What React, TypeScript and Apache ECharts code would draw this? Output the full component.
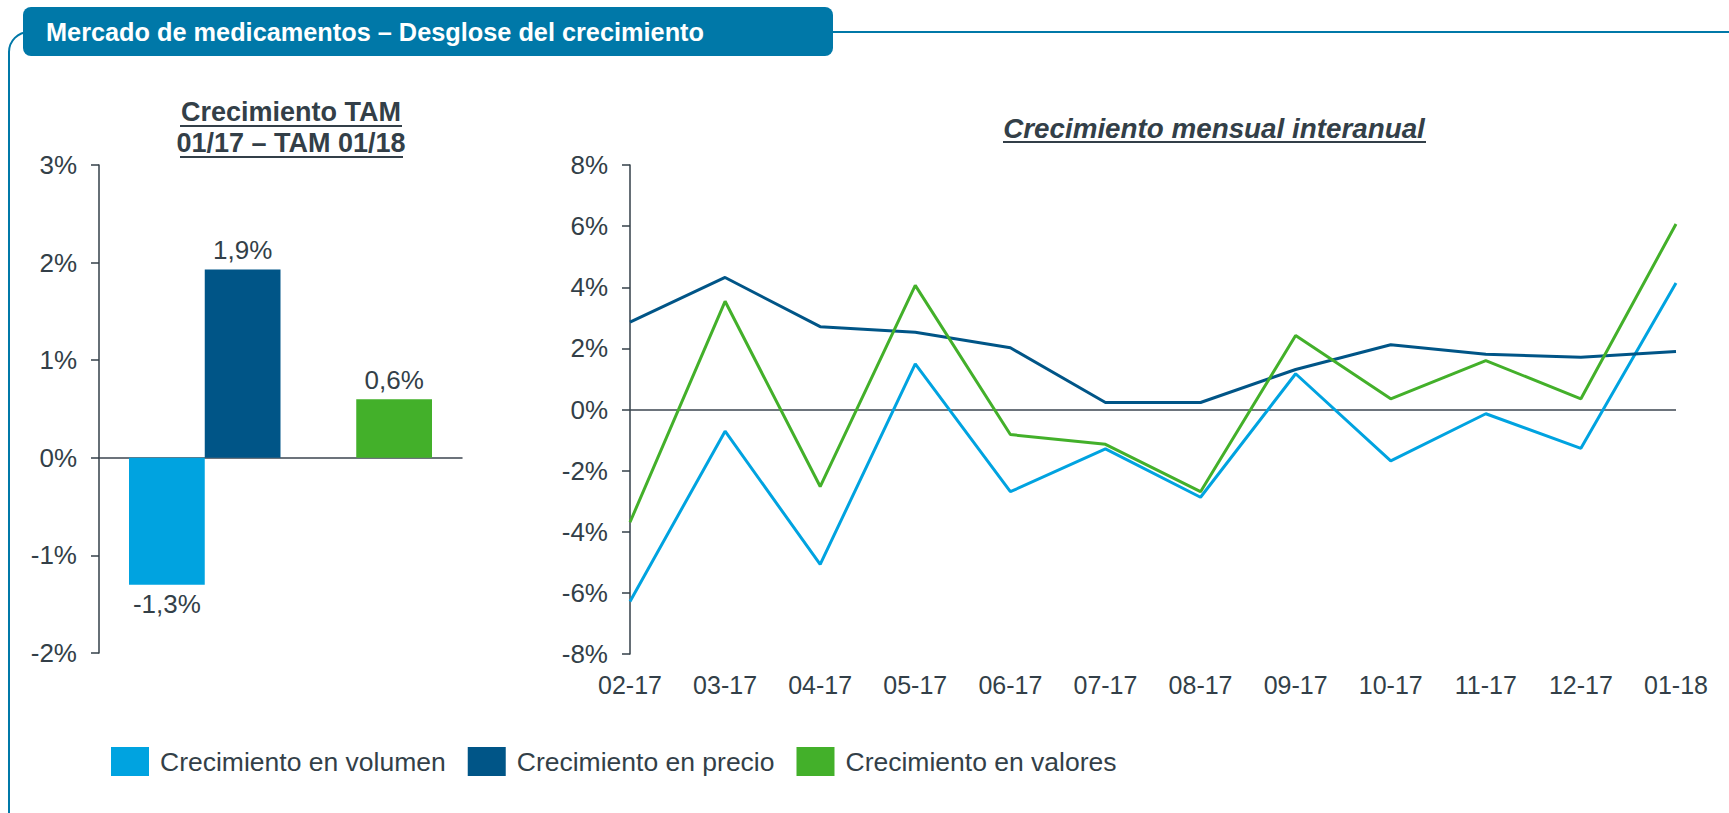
import React, { useEffect, useRef } from 'react';
import * as echarts from 'echarts';

// ---- Data ----
const months = ['02-17', '03-17', '04-17', '05-17', '06-17', '07-17', '08-17', '09-17', '10-17', '11-17', '12-17', '01-18'];
const volumen = [-6.28, -0.71, -5.07, 1.49, -2.69, -1.29, -2.87, 1.17, -1.68, -0.14, -1.27, 4.14];
const precio = [2.86, 4.32, 2.71, 2.53, 2.02, 0.23, 0.23, 1.31, 2.12, 1.81, 1.71, 1.9];
const valores = [-3.69, 3.54, -2.52, 4.06, -0.82, -1.14, -2.69, 2.42, 0.35, 1.6, 0.35, 6.07];

const seriesNames = ['Crecimiento en volumen', 'Crecimiento en precio', 'Crecimiento en valores'];
const seriesColors = ['#00a3e0', '#005587', '#43b02a'];

// TAM bars: slot '' is an empty spacer between precio and valores
const tamSlots = ['Volumen', 'Precio', '', 'Valores'];
const tamValues: (number | null)[] = [-1.3, 1.93, null, 0.6];
const tamColors: (string | null)[] = ['#00a3e0', '#005587', null, '#43b02a'];

const headerTitle = 'Mercado de medicamentos – Desglose del crecimiento';
const leftTitle1 = 'Crecimiento TAM';
const leftTitle2 = '01/17 – TAM 01/18';
const rightTitle = 'Crecimiento mensual interanual';

const INK = '#333f48';
const BLUE = '#0078a8';
const FONT = "'Liberation Sans', Arial, Helvetica, sans-serif";

export default function App() {
  const ref = useRef<HTMLDivElement>(null);
  useEffect(() => {
    document.body.style.margin = '0';
    document.body.style.overflow = 'hidden';
    const chart = echarts.init(ref.current!, undefined, { renderer: 'svg' });
    const fmtPct = (v: number) => `${v.toFixed(1).replace('.', ',')}%`;

    const lineSeries = [volumen, precio, valores].map((vals, i) => ({
      type: 'line',
      name: seriesNames[i],
      xAxisIndex: 2,
      yAxisIndex: 2,
      data: vals,
      symbol: 'none',
      showSymbol: false,
      z: 3 + i,
      itemStyle: { color: seriesColors[i] },
      lineStyle: { color: seriesColors[i], width: 3 },
      ...(i === 0
        ? {
            markLine: {
              silent: true,
              symbol: ['none', 'none'],
              label: { show: false },
              lineStyle: { color: '#3c4650', width: 1.5, type: 'solid' },
              data: [{ yAxis: 0 }],
              z: 1,
            },
          }
        : {}),
    }));

    const option: any = {
      animation: false,
      textStyle: { fontFamily: FONT },
      graphic: [
        {
          type: 'rect',
          shape: { x: 9, y: 32, width: 1780, height: 820, r: 20 },
          style: { fill: 'none', stroke: BLUE, lineWidth: 2 },
          z: 0,
        },
        {
          type: 'rect',
          shape: { x: 23, y: 7, width: 810, height: 49, r: 8 },
          style: { fill: BLUE },
          z: 1,
        },
        {
          type: 'text',
          x: 46,
          y: 32,
          z: 2,
          style: {
            text: headerTitle,
            fill: '#ffffff',
            font: `bold 25.3px ${FONT}`,
            verticalAlign: 'middle',
          },
        },
        {
          type: 'text',
          x: 291,
          y: 112,
          style: {
            text: leftTitle1,
            fill: INK,
            font: `bold 27px ${FONT}`,
            align: 'center',
            verticalAlign: 'middle',
          },
        },
        {
          type: 'line',
          shape: { x1: 180, y1: 126, x2: 402, y2: 126 },
          style: { stroke: INK, lineWidth: 2 },
        },
        {
          type: 'text',
          x: 291,
          y: 143,
          style: {
            text: leftTitle2,
            fill: INK,
            font: `bold 27px ${FONT}`,
            align: 'center',
            verticalAlign: 'middle',
          },
        },
        {
          type: 'line',
          shape: { x1: 180, y1: 157, x2: 403, y2: 157 },
          style: { stroke: INK, lineWidth: 2 },
        },
        {
          type: 'text',
          x: 1214,
          y: 128,
          style: {
            text: rightTitle,
            fill: INK,
            font: `italic bold 27.8px ${FONT}`,
            align: 'center',
            verticalAlign: 'middle',
          },
        },
        {
          type: 'line',
          shape: { x1: 1003, y1: 142, x2: 1426, y2: 142 },
          style: { stroke: INK, lineWidth: 2 },
        },
      ],
      legend: {
        data: seriesNames,
        left: 111,
        top: 747,
        padding: 0,
        icon: 'rect',
        itemWidth: 38,
        itemHeight: 29,
        itemGap: 22,
        selectedMode: false,
        textStyle: { color: INK, fontSize: 26.5, fontFamily: FONT, padding: [0, 0, 0, 6] },
      },
      grid: [
        { left: 99, top: 165, width: 363, height: 488 },
        { left: 129, top: 165, width: 303, height: 488 },
        { left: 630, top: 165, width: 1046, height: 489 },
      ],
      xAxis: [
        {
          gridIndex: 0,
          type: 'category',
          data: [''],
          axisLine: { show: true, onZero: true, lineStyle: { color: '#3c4650', width: 1.5 } },
          axisTick: { show: false },
          axisLabel: { show: false },
        },
        {
          gridIndex: 1,
          type: 'category',
          data: tamSlots,
          show: false,
        },
        {
          gridIndex: 2,
          type: 'category',
          data: months,
          boundaryGap: false,
          axisLine: { show: false },
          axisTick: { show: false },
          axisLabel: { color: INK, fontSize: 25, fontFamily: FONT, margin: 18 },
        },
      ],
      yAxis: [
        {
          gridIndex: 0,
          type: 'value',
          min: -2,
          max: 3,
          interval: 1,
          splitLine: { show: false },
          axisLine: { show: true, lineStyle: { color: INK, width: 1.5 } },
          axisTick: { show: true, length: 8, lineStyle: { color: INK, width: 1.5 } },
          axisLabel: { color: INK, fontSize: 26, fontFamily: FONT, margin: 22, formatter: '{value}%' },
        },
        {
          gridIndex: 1,
          type: 'value',
          min: -2,
          max: 3,
          show: false,
          splitLine: { show: false },
        },
        {
          gridIndex: 2,
          type: 'value',
          min: -8,
          max: 8,
          interval: 2,
          splitLine: { show: false },
          axisLine: { show: true, lineStyle: { color: INK, width: 1.5 } },
          axisTick: { show: true, length: 8, lineStyle: { color: INK, width: 1.5 } },
          axisLabel: { color: INK, fontSize: 26, fontFamily: FONT, margin: 22, formatter: '{value}%' },
        },
      ],
      series: [
        {
          type: 'bar',
          name: 'TAM',
          xAxisIndex: 1,
          yAxisIndex: 1,
          barCategoryGap: '0%',
          z: 2,
          data: tamValues.map((v, i) =>
            v === null
              ? '-'
              : {
                  value: v,
                  itemStyle: { color: tamColors[i] },
                  label: { position: v < 0 ? 'bottom' : 'top' },
                }
          ),
          label: {
            show: true,
            color: INK,
            fontSize: 26,
            fontFamily: FONT,
            distance: 6,
            formatter: (p: any) => fmtPct(Number(p.value)),
          },
        },
        ...lineSeries,
      ],
    };
    chart.setOption(option);
    return () => chart.dispose();
  }, []);
  return <div ref={ref} style={{ width: 1729, height: 813 }} />;
}
